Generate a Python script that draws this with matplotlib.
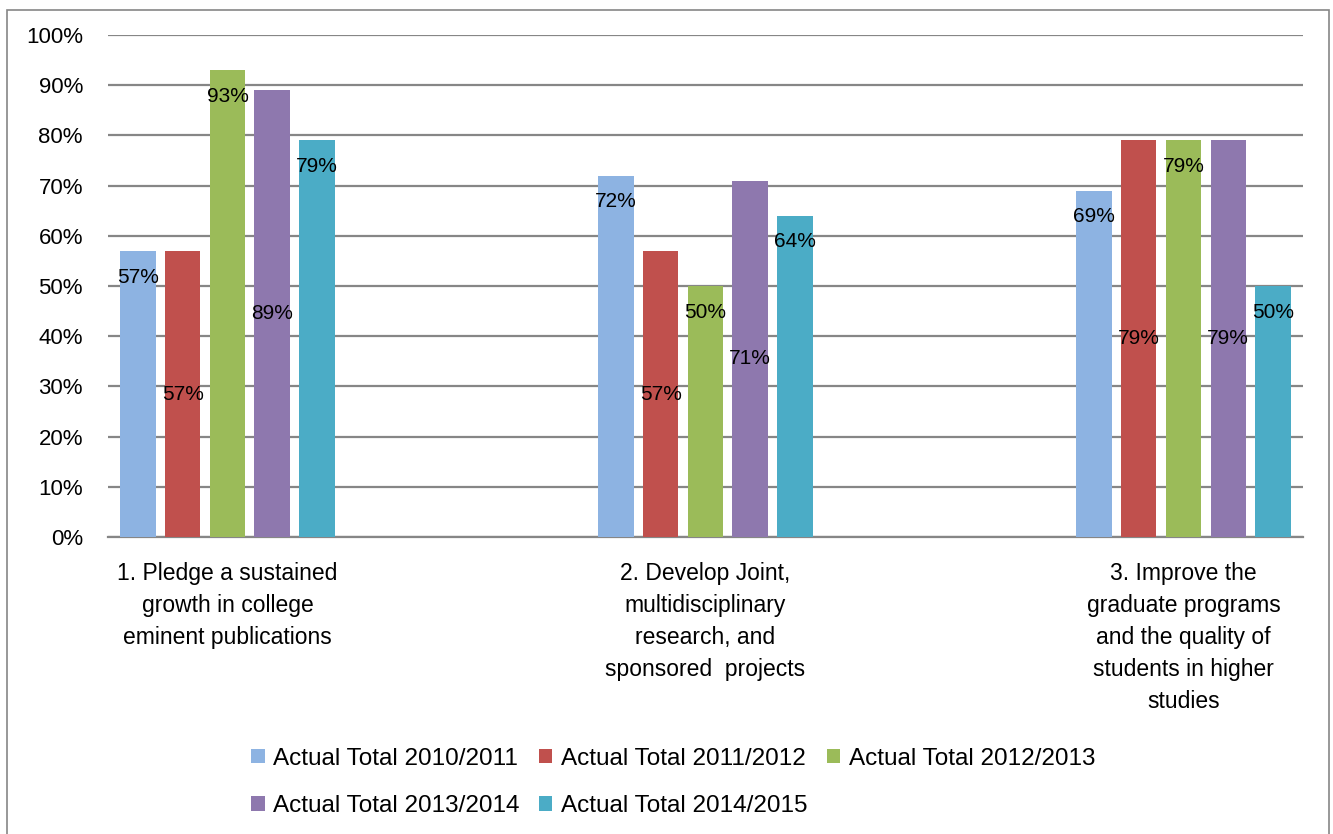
import matplotlib
matplotlib.use('Agg')
import matplotlib.pyplot as plt
from matplotlib.patches import Rectangle
import numpy as np

plt.rcParams['font.family'] = ['Liberation Sans', 'DejaVu Sans']

categories = [
    "1. Pledge a sustained\ngrowth in college\neminent publications",
    "2. Develop Joint,\nmultidisciplinary\nresearch, and\nsponsored  projects",
    "3. Improve the\ngraduate programs\nand the quality of\nstudents in higher\nstudies",
]
series_names = [
    "Actual Total 2010/2011",
    "Actual Total 2011/2012",
    "Actual Total 2012/2013",
    "Actual Total 2013/2014",
    "Actual Total 2014/2015",
]
total_2010_2011 = [57, 72, 69]
total_2011_2012 = [57, 57, 79]
total_2012_2013 = [93, 50, 79]
total_2013_2014 = [89, 71, 79]
total_2014_2015 = [79, 64, 50]
series_values = [total_2010_2011, total_2011_2012, total_2012_2013,
                 total_2013_2014, total_2014_2015]
colors = ['#8DB3E2', '#C0504D', '#9BBB59', '#8E78AE', '#4BACC6']
# Excel put some labels at inside end, others centred
label_pos = ['end', 'center', 'end', 'center', 'end']

fig = plt.figure(figsize=(13.33, 8.34), dpi=100)
ax = fig.add_axes([0.081, 0.356, 0.8965, 0.602])

x = np.arange(len(categories))
step = 0.0935
width = 0.074
for i, (name, vals) in enumerate(zip(series_names, series_values)):
    pos = x + (i - 2) * step
    v = np.array(vals) / 100
    ax.bar(pos, v, width, color=colors[i], label=name, zorder=3)
    for px, pv in zip(pos, v):
        y = pv - 0.052 if label_pos[i] == 'end' else pv / 2
        ax.text(px, y, f"{round(pv * 100)}%", ha='center', va='center',
                fontsize=15, color='black', zorder=4)

ax.set_xlim(-0.25, 2.25)
ax.set_ylim(0, 1)
ax.set_yticks(np.arange(0, 1.01, 0.1))
ax.set_yticklabels([f"{int(t)}%" for t in np.arange(0, 101, 10)], fontsize=16)
ax.set_xticks(x)
ax.set_xticklabels(categories, fontsize=16.5, linespacing=1.5)
ax.tick_params(axis='both', length=0)
ax.tick_params(axis='y', pad=18)
ax.tick_params(axis='x', pad=18)
ax.grid(axis='y', color='#868686', linewidth=1.6, zorder=0)
for s in ['top', 'right', 'left']:
    ax.spines[s].set_visible(False)
ax.spines['bottom'].set_color('#868686')
ax.spines['bottom'].set_linewidth(1.6)

handles, labels = ax.get_legend_handles_labels()
order = [0, 3, 1, 4, 2]
fig.legend([handles[k] for k in order], [labels[k] for k in order],
           loc='center', bbox_to_anchor=(0.505, 0.062), ncol=3, frameon=False,
           fontsize=17.5, handlelength=0.55, handleheight=0.55,
           handletextpad=0.35, columnspacing=0.8, labelspacing=1.05)

fig.patches.append(Rectangle((7 / 1333, -0.01), 1322 / 1333, 1.004 - 5 / 834,
                             transform=fig.transFigure, fill=False,
                             edgecolor='#868686', linewidth=1.2))

fig.savefig('out.png', dpi=100, facecolor='white')
